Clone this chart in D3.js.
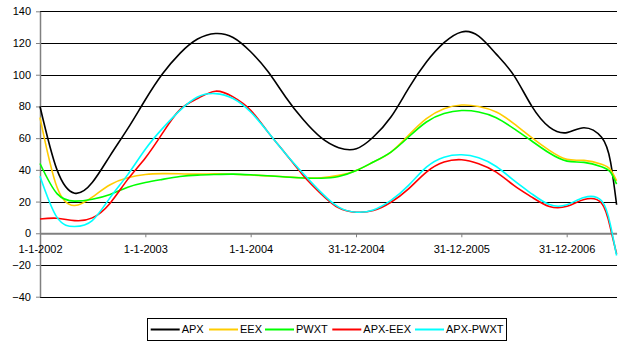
<!DOCTYPE html>
<html>
<head>
<meta charset="utf-8">
<script src="https://cdn.jsdelivr.net/npm/d3@7/dist/d3.min.js"></script>
<style>
  html, body { margin: 0; padding: 0; background: #fff; }
  svg { display: block; font-family: "Liberation Sans", Arial, sans-serif; }
</style>
</head>
<body>
<svg id="chart" width="622" height="345"></svg>
<script>
// ---- data ----
const dates = [
  "2002-01-01","2002-03-01","2002-05-01","2002-07-01","2002-09-01","2002-11-01",
  "2003-01-01","2003-03-01","2003-05-01","2003-07-01","2003-09-01","2003-11-01",
  "2004-01-01","2004-03-01","2004-05-01","2004-07-01","2004-09-01","2004-11-01",
  "2005-01-01","2005-03-01","2005-05-01","2005-07-01","2005-09-01","2005-11-01",
  "2006-01-01","2006-03-01","2006-05-01","2006-07-01","2006-09-01","2006-11-01",
  "2007-01-01","2007-03-01","2007-05-01","2007-06-01","2007-06-22"
];
const seriesNames = ["APX", "EEX", "PWXT", "APX-EEX", "APX-PWXT"];
const apx     = [80, 40, 25.3, 32, 49, 66, 84.2, 100.4, 113.5, 122.5, 126, 123.5, 114.5, 102, 86, 71.7, 60.3, 54, 53.3, 60.7, 73.3, 91.4, 108, 120.2, 127, 124.3, 113, 99.6, 80.2, 67, 63.5, 66.6, 60.5, 45, 18];
const eex     = [73, 29, 17.5, 22.8, 30.6, 35, 37.1, 37.6, 37.5, 37.3, 37.5, 37.2, 36.8, 36.2, 35.6, 35, 35, 36.5, 39.6, 44.9, 51.2, 61.8, 72.3, 78.6, 80.9, 80, 76.5, 69.2, 60.3, 52.3, 46.6, 46, 43.5, 40, 33];
const pwxt    = [44, 25, 20.3, 21.5, 24.5, 29, 32, 34, 35.8, 36.7, 37.1, 37.3, 36.9, 36.3, 35.5, 34.9, 34.7, 35.8, 39.6, 44.9, 51.2, 60.7, 70.2, 75.5, 77.4, 76.5, 72.9, 66, 58.2, 50.6, 45.5, 44.7, 42, 38.5, 31];
const apxEex  = [9, 9.5, 8, 9.7, 19, 34, 47.5, 63, 78, 85, 89.6, 86, 77.6, 63.8, 50.2, 36.5, 24.9, 16, 13.3, 14.3, 19.6, 28, 38.6, 44.9, 46.4, 43.9, 38.6, 30.2, 22.8, 16.9, 17, 21.3, 19, 3, -13];
const apxPwxt = [36, 10, 4.3, 8, 22.5, 37, 53, 66, 77.5, 86, 88.1, 85, 76.5, 63.8, 50.2, 37.7, 25.8, 16.5, 13.3, 14.7, 20.7, 30.2, 41.7, 48, 49.5, 47.6, 42.1, 33.3, 24.9, 18.1, 18, 22.6, 20.5, 5, -14];
const yTicks = [-40, -20, 0, 20, 40, 60, 80, 100, 120, 140];
const xTickDates = ["2002-01-01", "2003-01-01", "2004-01-01", "2004-12-31", "2005-12-31", "2006-12-31"];
const colors = ["#000000", "#FFCC00", "#00FF00", "#FF0000", "#00FFFF"];

// ---- build ----
const parse = d3.utcParse("%Y-%m-%d");
const fmt = d3.utcFormat("%-d-%-m-%Y");
const dateObjs = dates.map(parse);
const allValues = [apx, eex, pwxt, apxEex, apxPwxt];
const series = seriesNames.map((name, i) => ({
  name, color: colors[i],
  points: dateObjs.map((d, j) => ({ date: d, value: allValues[i][j] }))
}));

const svg = d3.select("#chart");
const x = d3.scaleUtc().domain([dateObjs[0], dateObjs[dateObjs.length - 1]]).range([40, 616.6]);
const y = d3.scaleLinear().domain([-40, 140]).range([296.7, 11.3]);

// gridlines
svg.append("g")
  .selectAll("line")
  .data(yTicks.filter(v => v !== 0))
  .join("line")
  .attr("x1", 40).attr("x2", 617)
  .attr("y1", d => Math.round(y(d)) + 0.5)
  .attr("y2", d => Math.round(y(d)) + 0.5)
  .attr("stroke", "#000").attr("stroke-width", 1);

// y axis
const yAxis = svg.append("g")
  .attr("transform", "translate(40,0)")
  .call(d3.axisLeft(y).tickValues(yTicks).tickSize(4).tickPadding(5).tickSizeOuter(0));
yAxis.select(".domain").attr("stroke", "#808080").attr("stroke-width", 1.5);
yAxis.selectAll(".tick line").attr("stroke", "#808080");
yAxis.selectAll("text").attr("font-size", 11).attr("fill", "#000")
  .attr("font-family", "'Liberation Sans', Arial, sans-serif");

// x axis on the zero line
const xAxis = svg.append("g")
  .attr("transform", `translate(0,${y(0)})`)
  .call(d3.axisBottom(x).tickValues(xTickDates.map(parse)).tickFormat(fmt)
        .tickSize(4).tickPadding(8).tickSizeOuter(0));
xAxis.select(".domain").attr("stroke", "#808080").attr("stroke-width", 2);
xAxis.selectAll(".tick line").attr("stroke", "#808080");
xAxis.selectAll("text").attr("font-size", 11).attr("fill", "#000")
  .attr("font-family", "'Liberation Sans', Arial, sans-serif");

// lines
const line = d3.line()
  .x(d => x(d.date))
  .y(d => y(d.value))
  .curve(d3.curveNatural);

svg.append("g")
  .selectAll("path")
  .data(series)
  .join("path")
  .attr("d", d => line(d.points))
  .attr("fill", "none")
  .attr("stroke", d => d.color)
  .attr("stroke-width", 1.6)
  .attr("stroke-linejoin", "round");

// legend
const legend = svg.append("g");
legend.append("rect")
  .attr("x", 147.5).attr("y", 318.5).attr("width", 359).attr("height", 22)
  .attr("fill", "#fff").attr("stroke", "#000").attr("stroke-width", 1);
const legendX = [150.7, 209, 265, 332.3, 415];
const legendItems = legend.selectAll("g.item")
  .data(series)
  .join("g").attr("class", "item")
  .attr("transform", (d, i) => `translate(${legendX[i]},329.5)`);
legendItems.append("line")
  .attr("x1", 0).attr("x2", 29).attr("y1", 0).attr("y2", 0)
  .attr("stroke", d => d.color).attr("stroke-width", 2);
legendItems.append("text")
  .attr("x", 31).attr("y", 0).attr("dy", "0.35em")
  .attr("font-size", 11).attr("fill", "#000")
  .text(d => d.name);
</script>
</body>
</html>
